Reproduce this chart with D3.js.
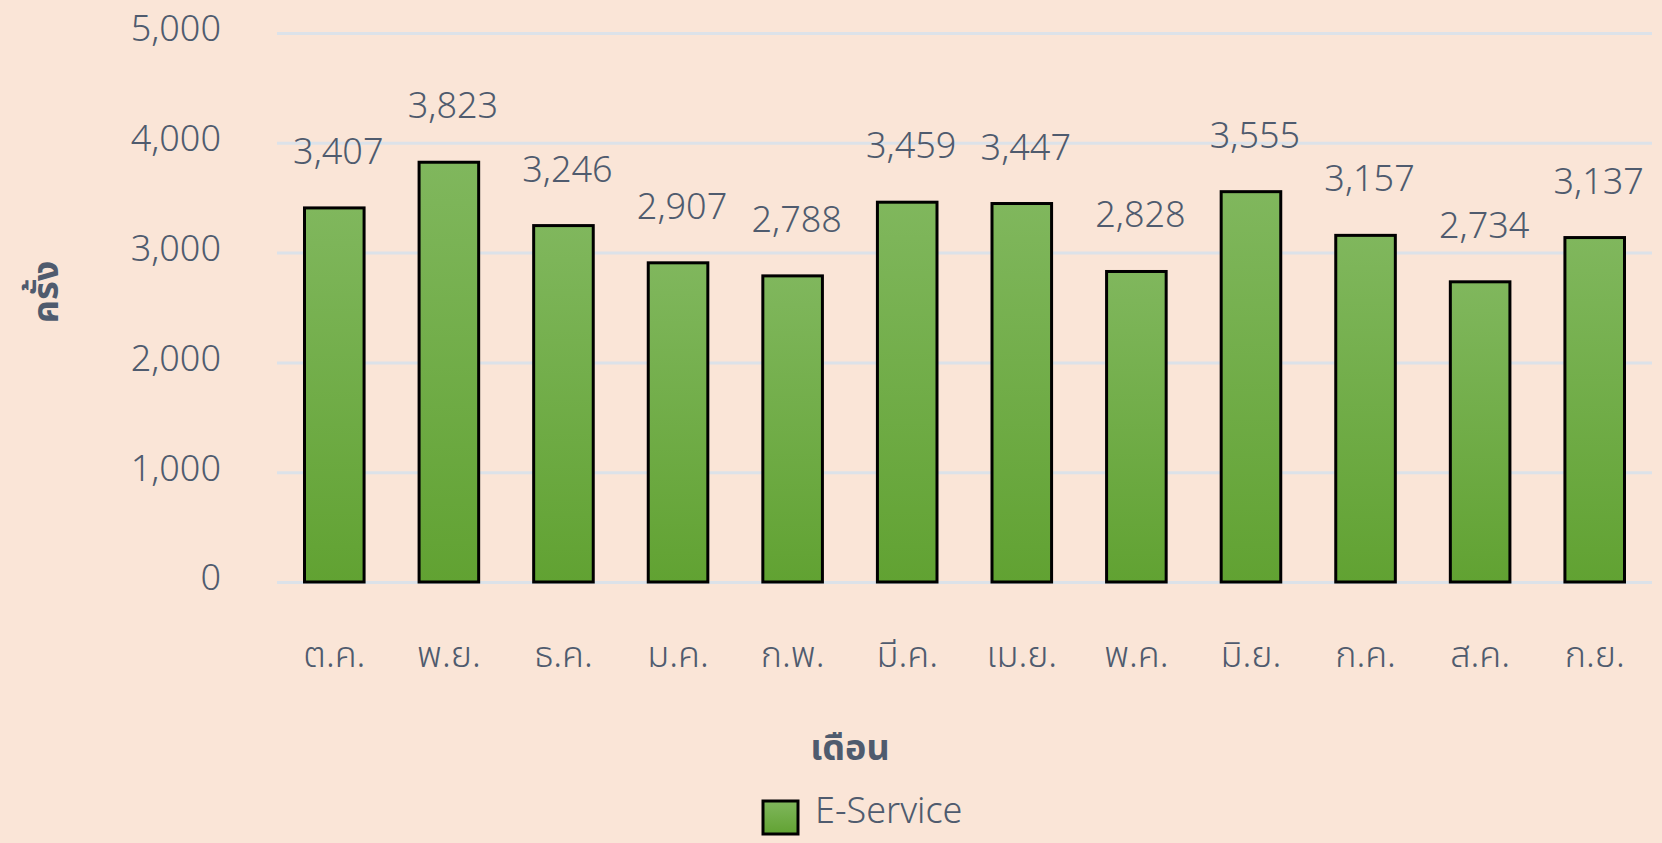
<!DOCTYPE html>
<html lang="th">
    <head>
        <meta charset="utf-8">
        <title>E-Service</title>
        <script src="https://d3js.org/d3.v7.min.js"></script>
        <style type="text/css">
            body { margin: 0; background: #fae5d7; }
            text { font-family: "Noto Sans Thai", "Leelawadee UI", Tahoma, "Noto Sans", sans-serif; fill: #4f5b6e; }
            .tick text { font-size: 36px; font-weight: 300; }
            .labels { font-size: 36px; font-weight: 300; }
            .title { font-size: 36px; font-weight: bold; }
        </style>
    </head>
    <body>
        <script type="text/javascript">

            //data
            const months = ["ต.ค.", "พ.ย.", "ธ.ค.", "ม.ค.", "ก.พ.", "มี.ค.", "เม.ย.", "พ.ค.", "มิ.ย.", "ก.ค.", "ส.ค.", "ก.ย."];
            const values = [3407, 3823, 3246, 2907, 2788, 3459, 3447, 2828, 3555, 3157, 2734, 3137];
            const yTicks = [0, 1000, 2000, 3000, 4000, 5000];
            const seriesName = "E-Service";

            const w = 1662;
            const h = 843;
            const margin = {top: 33, right: 10, bottom: 261, left: 277};

            const svg = d3.select("body")
                    .append("svg")
                    .attr("width", w)
                    .attr("height", h);

            //gradient for bars
            const grad = svg.append("defs").append("linearGradient")
                    .attr("id", "barGrad")
                    .attr("x1", 0).attr("y1", 0).attr("x2", 0).attr("y2", 1);
            grad.append("stop").attr("offset", "0%").attr("stop-color", "#80b75d");
            grad.append("stop").attr("offset", "100%").attr("stop-color", "#61a232");

            const x = d3.scaleBand()
                    .domain(months)
                    .range([margin.left, w - margin.right])
                    .paddingInner(0.48)
                    .paddingOuter(0.24);

            const y = d3.scaleLinear()
                    .domain([0, 5000])
                    .range([h - margin.bottom, margin.top]);

            //gridlines + y labels
            const yAxis = svg.append("g")
                    .attr("transform", "translate(" + margin.left + ",0)")
                    .call(d3.axisLeft(y)
                        .tickValues(yTicks)
                        .tickFormat(d3.format(","))
                        .tickSize(-(w - margin.left - margin.right))
                        .tickPadding(56));
            yAxis.select(".domain").remove();
            yAxis.selectAll(".tick line")
                    .attr("stroke", "#dce2e9")
                    .attr("stroke-width", 3);
            yAxis.selectAll(".tick text").attr("dy", "0.22em");

            //bars
            svg.selectAll("rect.bar")
                .data(values)
                .enter()
                .append("rect")
                .attr("class", "bar")
                .attr("x", (d, i) => x(months[i]))
                .attr("y", d => y(d))
                .attr("width", x.bandwidth())
                .attr("height", d => y(0) - y(d))
                .attr("fill", "url(#barGrad)")
                .attr("stroke", "#000")
                .attr("stroke-width", 3);

            //value labels
            svg.selectAll("text.labels")
                .data(values)
                .enter()
                .append("text")
                .attr("class", "labels")
                .attr("x", (d, i) => x(months[i]) + x.bandwidth() / 2 + 4)
                .attr("y", d => y(d) - 44)
                .attr("text-anchor", "middle")
                .text(d => d3.format(",")(d));

            //x labels
            const xAxis = svg.append("g")
                    .attr("transform", "translate(0," + (h - margin.bottom) + ")")
                    .call(d3.axisBottom(x).tickSize(0).tickPadding(0));
            xAxis.select(".domain").remove();
            xAxis.selectAll(".tick text")
                    .attr("y", 85)
                    .attr("dy", 0);

            //axis titles
            svg.append("text")
                .attr("class", "title")
                .attr("x", 850)
                .attr("y", 760)
                .attr("text-anchor", "middle")
                .text("เดือน");

            svg.append("text")
                .attr("class", "title")
                .attr("transform", "translate(58,292) rotate(-90)")
                .attr("text-anchor", "middle")
                .text("ครั้ง");

            //legend
            const legend = svg.append("g").attr("transform", "translate(763,801)");
            legend.append("rect")
                .attr("width", 35)
                .attr("height", 33)
                .attr("fill", "url(#barGrad)")
                .attr("stroke", "#000")
                .attr("stroke-width", 3);
            legend.append("text")
                .attr("class", "labels")
                .attr("x", 52)
                .attr("y", 22)
                .text(seriesName);

        </script>
    </body>
</html>
